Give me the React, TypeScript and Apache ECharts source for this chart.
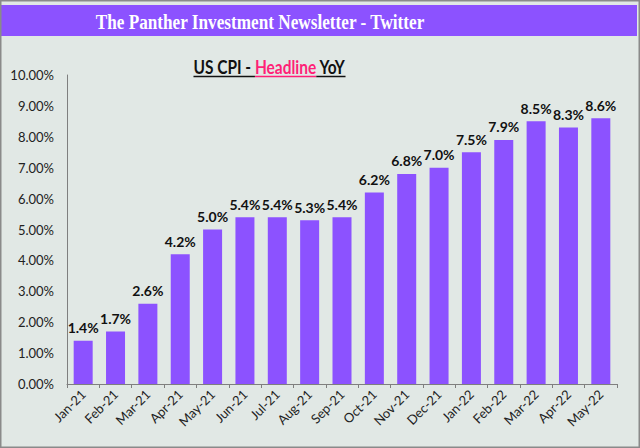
import React, { useEffect, useRef } from "react";
import * as echarts from "echarts";

const categories = ["Jan-21","Feb-21","Mar-21","Apr-21","May-21","Jun-21","Jul-21","Aug-21","Sep-21","Oct-21","Nov-21","Dec-21","Jan-22","Feb-22","Mar-22","Apr-22","May-22"];
const cpiValues = [1.4,1.7,2.6,4.2,5.0,5.4,5.4,5.3,5.4,6.2,6.8,7.0,7.5,7.9,8.5,8.3,8.6];
const headerText = "The Panther Investment Newsletter - Twitter";
const titleParts = ["US CPI - ", "Headline", " YoY"];

const PURPLE = "#8C52FF";
const PINK = "#FF1F77";
const BG = "#E1E8E5";
const FONT = "Lato, 'Open Sans', sans-serif";

function measure(text: string, font: string): number {
  const c = document.createElement("canvas").getContext("2d")!;
  c.font = font;
  return c.measureText(text).width;
}

export default function App() {
  const ref = useRef<HTMLDivElement>(null);
  useEffect(() => {
    const chart = echarts.init(ref.current!, null, { renderer: "svg" });

    const titleFont = "bold 18px Lato";
    const sx = 0.86;
    const widths = titleParts.map((t) => measure(t, titleFont) * sx);
    const total = widths.reduce((a, b) => a + b, 0);
    const tLeft = 269.5 - total / 2;
    const x0 = tLeft, x1 = x0 + widths[0], x2 = x1 + widths[1], x3 = x2 + widths[2];
    const ty = 67;
    const uy = 76.5;
    const partColors = ["#111", PINK, "#111"];
    const starts = [x0, x1, x2];

    chart.setOption({
      animation: false,
      backgroundColor: BG,
      grid: { left: 67, right: 23, top: 75, bottom: 64, containLabel: false },
      xAxis: {
        type: "category",
        data: categories,
        boundaryGap: true,
        axisLine: { lineStyle: { color: "#7f7f7f", width: 1 } },
        axisTick: { show: true, alignWithLabel: false, length: 4, lineStyle: { color: "#7f7f7f" } },
        axisLabel: { rotate: 45, interval: 0, color: "#222", fontFamily: FONT, fontSize: 13, margin: 8 },
      },
      yAxis: {
        type: "value",
        min: 0,
        max: 10,
        interval: 1,
        axisLine: { show: true, lineStyle: { color: "#7f7f7f" } },
        axisTick: { show: false },
        splitLine: { show: false },
        axisLabel: { color: "#222", fontFamily: FONT, fontSize: 13, margin: 13, formatter: (v: number) => v.toFixed(2) + "%" },
      },
      series: [
        {
          type: "bar",
          data: cpiValues,
          barWidth: 19,
          itemStyle: { color: PURPLE },
          label: {
            show: true,
            position: "top",
            distance: 6,
            color: "#111",
            fontFamily: FONT,
            fontWeight: "bold",
            fontSize: 14,
            formatter: (p: any) => Number(p.value).toFixed(1) + "%",
          },
        },
      ],
      graphic: [
        { type: "rect", shape: { x: 0, y: 0, width: 640, height: 448 }, style: { fill: "none", stroke: "#8a8a8a", lineWidth: 3 }, z: 100 },
        { type: "rect", shape: { x: 0, y: 5, width: 637, height: 31 }, style: { fill: PURPLE } },
        {
          type: "text",
          x: 260,
          y: 22,
          scaleX: 0.86,
          style: {
            text: headerText,
            fill: "#fff",
            font: "bold 20px 'Liberation Serif', 'DejaVu Serif', serif",
            textAlign: "center",
            textVerticalAlign: "middle",
          },
        },
        ...titleParts.map((t, i) => ({
          type: "text",
          x: starts[i],
          y: ty,
          scaleX: sx,
          style: {
            text: t,
            fill: partColors[i],
            font: titleFont,
            textAlign: "left",
            textVerticalAlign: "middle",
          },
        })),
        { type: "line", shape: { x1: x0, y1: uy, x2: x1, y2: uy }, style: { stroke: "#111", lineWidth: 1.5 } },
        { type: "line", shape: { x1: x1, y1: uy, x2: x2, y2: uy }, style: { stroke: PINK, lineWidth: 1.5 } },
        { type: "line", shape: { x1: x2, y1: uy, x2: x3, y2: uy }, style: { stroke: "#111", lineWidth: 1.5 } },
      ],
    });
    return () => chart.dispose();
  }, []);
  return <div ref={ref} style={{ width: 640, height: 448, position: "absolute", left: 0, top: 0 }} />;
}
